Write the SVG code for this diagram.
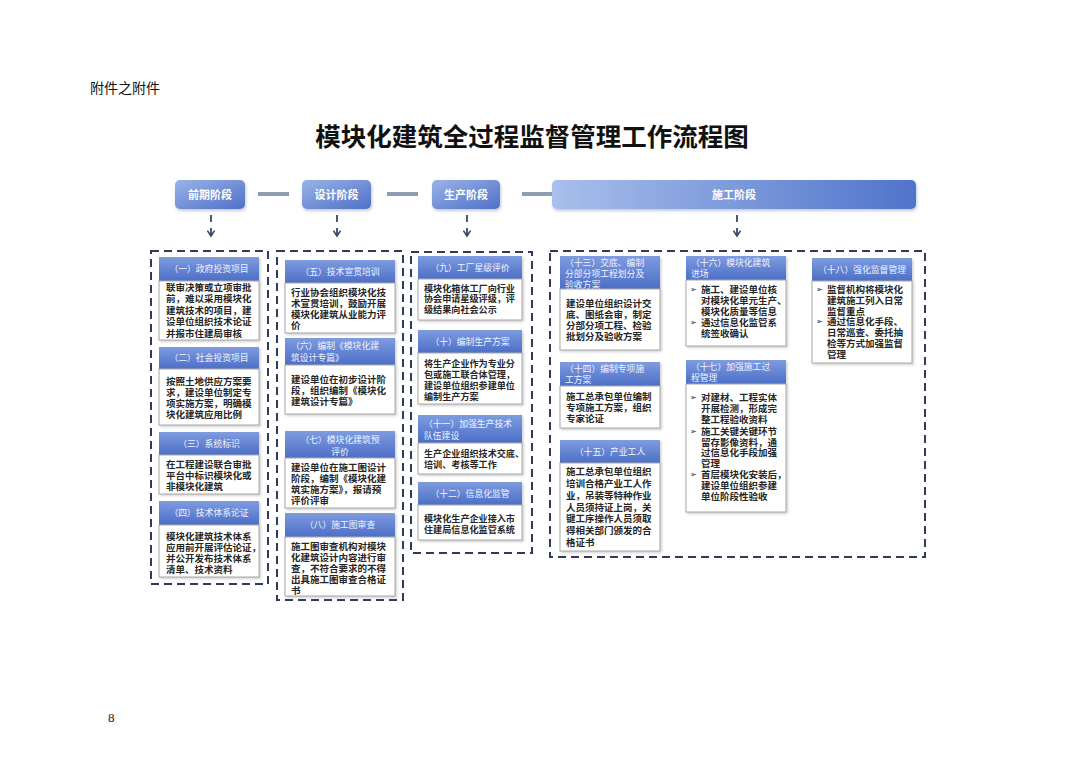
<svg xmlns="http://www.w3.org/2000/svg" width="1080" height="764" viewBox="0 0 1080 764">
<defs>
<linearGradient id="hg" x1="0" y1="0" x2="0" y2="1"><stop offset="0" stop-color="#7f9ce0"/><stop offset="1" stop-color="#4c6ec6"/></linearGradient>
<linearGradient id="sg" x1="0" y1="0" x2="1" y2="1"><stop offset="0" stop-color="#9ab3e8"/><stop offset="1" stop-color="#4e70c8"/></linearGradient>
<linearGradient id="sg4" x1="0" y1="0" x2="1" y2="0"><stop offset="0" stop-color="#a9bfec"/><stop offset="1" stop-color="#5074cb"/></linearGradient>
<filter id="sh" x="-10%" y="-20%" width="130%" height="160%"><feDropShadow dx="1" dy="2" stdDeviation="1.5" flood-color="#8a94a8" flood-opacity="0.5"/></filter>
<filter id="bs" x="-5%" y="-5%" width="115%" height="115%"><feDropShadow dx="1.5" dy="1.5" stdDeviation="0.8" flood-color="#9a9a9a" flood-opacity="0.45"/></filter>
<marker id="ah" viewBox="0 0 10 10" refX="8" refY="5" markerWidth="9" markerHeight="9" orient="auto" markerUnits="userSpaceOnUse"><path d="M2,1 L8,5 L2,9" fill="none" stroke="#3a4766" stroke-width="1.8"/></marker>
</defs>
<style>
text{font-family:"Noto Sans CJK SC","Noto Sans",sans-serif}
.hd{fill:url(#hg);filter:url(#bs)}
.bd{fill:#fff;stroke:#a8a8a8;stroke-width:1;filter:url(#bs)}
.ht{font-size:8.8px;fill:#eef3ff}
.bt{font-size:9.5px;font-weight:bold;fill:#262626}
.b3{font-size:9.1px}
.bu{font-size:8px;fill:#262626}
.ct{fill:none;stroke:#2f3b58;stroke-width:2;stroke-dasharray:8 5}
.st{font-size:11px;fill:#fff;font-weight:bold}
.cn{stroke:#8e9db4;stroke-width:4}
.dn{stroke:#3a4766;stroke-width:1.8;stroke-dasharray:7 6;fill:none}
</style>
<rect width="1080" height="764" fill="#ffffff"/>
<text x="90" y="93" font-size="14" fill="#111">附件之附件</text>
<text x="532" y="146" font-size="25.5" font-weight="bold" text-anchor="middle" fill="#111">模块化建筑全过程监督管理工作流程图</text>
<text x="108" y="722" font-size="13" fill="#222" style="font-family:'Liberation Serif',serif">8</text>

<g id="connectors">
<line class="cn" x1="258" y1="194" x2="289" y2="194"/>
<line class="cn" x1="387" y1="194" x2="418" y2="194"/>
<line class="cn" x1="522" y1="194" x2="553" y2="194"/>
<path class="dn" d="M211,215 V236" marker-end="url(#ah)"/>
<path class="dn" d="M337,215 V236" marker-end="url(#ah)"/>
<path class="dn" d="M467,215 V236" marker-end="url(#ah)"/>
<path class="dn" d="M737,215 V236" marker-end="url(#ah)"/>
</g>

<g id="stages">
<g id="s1"><rect x="175" y="180" width="70" height="29" rx="5" fill="url(#sg)" filter="url(#sh)"/><text class="st" x="210" y="198.5" text-anchor="middle">前期阶段</text></g>
<g id="s2"><rect x="302" y="180" width="69" height="29" rx="5" fill="url(#sg)" filter="url(#sh)"/><text class="st" x="336.5" y="198.5" text-anchor="middle">设计阶段</text></g>
<g id="s3"><rect x="432" y="180" width="68" height="29" rx="5" fill="url(#sg)" filter="url(#sh)"/><text class="st" x="466" y="198.5" text-anchor="middle">生产阶段</text></g>
<g id="s4"><rect x="552" y="180" width="364" height="29" rx="5" fill="url(#sg4)" filter="url(#sh)"/><text class="st" x="734" y="198.5" text-anchor="middle">施工阶段</text></g>
</g>

<g id="containers">
<rect class="ct" x="151" y="251" width="117" height="333"/>
<rect class="ct" x="277" y="251" width="126" height="349"/>
<rect class="ct" x="411" y="252" width="121" height="301"/>
<rect class="ct" x="550" y="251" width="375" height="306"/>
</g>

<g id="n1"><rect class="hd" x="159" y="257" width="100" height="24"/><text class="ht" x="209" y="272" text-anchor="middle">（一）政府投资项目</text>
<rect class="bd" x="159" y="281" width="100" height="59"/>
<text class="bt"><tspan x="166" y="290.5">联审决策或立项审批</tspan><tspan x="166" y="302">前，难以采用模块化</tspan><tspan x="166" y="313.5">建筑技术的项目，建</tspan><tspan x="166" y="325">设单位组织技术论证</tspan><tspan x="166" y="336.5">并报市住建局审核</tspan></text></g>

<g id="n2"><rect class="hd" x="159" y="347" width="100" height="22"/><text class="ht" x="209" y="361" text-anchor="middle">（二）社会投资项目</text>
<rect class="bd" x="159" y="369" width="100" height="56"/>
<text class="bt"><tspan x="166" y="384.5">按照土地供应方案要</tspan><tspan x="166" y="395.5">求，建设单位制定专</tspan><tspan x="166" y="406.5">项实施方案，明确模</tspan><tspan x="166" y="417.5">块化建筑应用比例</tspan></text></g>

<g id="n3"><rect class="hd" x="159" y="432" width="100" height="23"/><text class="ht" x="209" y="446.5" text-anchor="middle">（三）系统标识</text>
<rect class="bd" x="159" y="455" width="100" height="39"/>
<text class="bt"><tspan x="166" y="467.5">在工程建设联合审批</tspan><tspan x="166" y="478.5">平台中标识模块化或</tspan><tspan x="166" y="489.5">非模块化建筑</tspan></text></g>

<g id="n4"><rect class="hd" x="159" y="501" width="100" height="24"/><text class="ht" x="209" y="516" text-anchor="middle">（四）技术体系论证</text>
<rect class="bd" x="159" y="525" width="100" height="52"/>
<text class="bt"><tspan x="166" y="539.5">模块化建筑技术体系</tspan><tspan x="166" y="550.5">应用前开展评估论证，</tspan><tspan x="166" y="561.5">并公开发布技术体系</tspan><tspan x="166" y="572.5">清单、技术资料</tspan></text></g>

<g id="n5"><rect class="hd" x="285" y="260" width="110" height="23"/><text class="ht" x="340" y="274.5" text-anchor="middle">（五）技术宣贯培训</text>
<rect class="bd" x="285" y="283" width="110" height="50"/>
<text class="bt"><tspan x="291" y="295.5">行业协会组织模块化技</tspan><tspan x="291" y="306.5">术宣贯培训，鼓励开展</tspan><tspan x="291" y="317.5">模块化建筑从业能力评</tspan><tspan x="291" y="328.5">价</tspan></text></g>

<g id="n6"><rect class="hd" x="285" y="338" width="110" height="27"/><text class="ht"><tspan x="291" y="349">（六）编制《模块化建</tspan><tspan x="291" y="361">筑设计专篇》</tspan></text>
<rect class="bd" x="285" y="365" width="110" height="49"/>
<text class="bt"><tspan x="291" y="382.5">建设单位在初步设计阶</tspan><tspan x="291" y="393.5">段，组织编制《模块化</tspan><tspan x="291" y="404.5">建筑设计专篇》</tspan></text></g>

<g id="n7"><rect class="hd" x="285" y="431" width="110" height="27"/><text class="ht" text-anchor="middle"><tspan x="340" y="443">（七）模块化建筑预</tspan><tspan x="340" y="455">评价</tspan></text>
<rect class="bd" x="285" y="458" width="110" height="50"/>
<text class="bt"><tspan x="291" y="470.5">建设单位在施工图设计</tspan><tspan x="291" y="481.5">阶段，编制《模块化建</tspan><tspan x="291" y="492.5">筑实施方案》，报请预</tspan><tspan x="291" y="503.5">评价评审</tspan></text></g>

<g id="n8"><rect class="hd" x="285" y="513" width="110" height="24"/><text class="ht" x="340" y="528" text-anchor="middle">（八）施工图审查</text>
<rect class="bd" x="285" y="537" width="110" height="59"/>
<text class="bt"><tspan x="291" y="549.5">施工图审查机构对模块</tspan><tspan x="291" y="560.5">化建筑设计内容进行审</tspan><tspan x="291" y="571.5">查，不符合要求的不得</tspan><tspan x="291" y="582.5">出具施工图审查合格证</tspan><tspan x="291" y="593.5">书</tspan></text></g>

<g id="n9"><rect class="hd" x="418" y="256" width="104" height="23"/><text class="ht" x="470" y="270.5" text-anchor="middle">（九）工厂星级评价</text>
<rect class="bd" x="418" y="279" width="104" height="41"/>
<text class="bt b3"><tspan x="424" y="291.5">模块化箱体工厂向行业</tspan><tspan x="424" y="302">协会申请星级评级，评</tspan><tspan x="424" y="312.5">级结果向社会公示</tspan></text></g>

<g id="n10"><rect class="hd" x="418" y="330" width="104" height="23"/><text class="ht" x="470" y="344.5" text-anchor="middle">（十）编制生产方案</text>
<rect class="bd" x="418" y="353" width="104" height="51"/>
<text class="bt b3"><tspan x="424" y="366.5">将生产企业作为专业分</tspan><tspan x="424" y="377.5">包或施工联合体管理，</tspan><tspan x="424" y="388.5">建设单位组织参建单位</tspan><tspan x="424" y="399.5">编制生产方案</tspan></text></g>

<g id="n11"><rect class="hd" x="418" y="415" width="104" height="28"/><text class="ht"><tspan x="424" y="426.5">（十一）加强生产技术</tspan><tspan x="424" y="438.5">队伍建设</tspan></text>
<rect class="bd" x="418" y="443" width="104" height="31"/>
<text class="bt b3"><tspan x="424" y="456.5">生产企业组织技术交底、</tspan><tspan x="424" y="467.5">培训、考核等工作</tspan></text></g>

<g id="n12"><rect class="hd" x="418" y="482" width="104" height="23"/><text class="ht" x="470" y="496.5" text-anchor="middle">（十二）信息化监管</text>
<rect class="bd" x="418" y="505" width="104" height="35"/>
<text class="bt b3"><tspan x="424" y="521.5">模块化生产企业接入市</tspan><tspan x="424" y="532.5">住建局信息化监管系统</tspan></text></g>

<g id="n13"><rect class="hd" x="560" y="256" width="100" height="33"/><text class="ht"><tspan x="565" y="266">（十三）交底、编制</tspan><tspan x="565" y="277">分部分项工程划分及</tspan><tspan x="565" y="288">验收方案</tspan></text>
<rect class="bd" x="560" y="289" width="100" height="61"/>
<text class="bt"><tspan x="566" y="306.5">建设单位组织设计交</tspan><tspan x="566" y="317.5">底、图纸会审，制定</tspan><tspan x="566" y="328.5">分部分项工程、检验</tspan><tspan x="566" y="340">批划分及验收方案</tspan></text></g>

<g id="n14"><rect class="hd" x="560" y="362" width="100" height="24"/><text class="ht"><tspan x="565" y="372">（十四）编制专项施</tspan><tspan x="565" y="383">工方案</tspan></text>
<rect class="bd" x="560" y="386" width="100" height="42"/>
<text class="bt"><tspan x="566" y="399.5">施工总承包单位编制</tspan><tspan x="566" y="410.5">专项施工方案，组织</tspan><tspan x="566" y="422">专家论证</tspan></text></g>

<g id="n15"><rect class="hd" x="560" y="440" width="100" height="23"/><text class="ht" x="610" y="454.5" text-anchor="middle">（十五）产业工人</text>
<rect class="bd" x="560" y="463" width="100" height="88"/>
<text class="bt"><tspan x="566" y="474.5">施工总承包单位组织</tspan><tspan x="566" y="486.5">培训合格产业工人作</tspan><tspan x="566" y="498.5">业，吊装等特种作业</tspan><tspan x="566" y="510.5">人员须持证上岗，关</tspan><tspan x="566" y="521.5">键工序操作人员须取</tspan><tspan x="566" y="533.5">得相关部门颁发的合</tspan><tspan x="566" y="545.5">格证书</tspan></text></g>

<g id="n16"><rect class="hd" x="686" y="256" width="100" height="24"/><text class="ht"><tspan x="691" y="266">（十六）模块化建筑</tspan><tspan x="691" y="277">进场</tspan></text>
<rect class="bd" x="686" y="280" width="100" height="66"/>
<text class="bu"><tspan x="690" y="292">➢</tspan><tspan x="690" y="325">➢</tspan></text>
<text class="bt"><tspan x="701" y="292.5">施工、建设单位核</tspan><tspan x="701" y="303.5">对模块化单元生产、</tspan><tspan x="701" y="314.5">模块化质量等信息</tspan><tspan x="701" y="325.5">通过信息化监管系</tspan><tspan x="701" y="337">统签收确认</tspan></text></g>

<g id="n17"><rect class="hd" x="686" y="360" width="100" height="24"/><text class="ht"><tspan x="691" y="370">（十七）加强施工过</tspan><tspan x="691" y="381">程管理</tspan></text>
<rect class="bd" x="686" y="384" width="100" height="128"/>
<text class="bu"><tspan x="690" y="400">➢</tspan><tspan x="690" y="434">➢</tspan><tspan x="690" y="477">➢</tspan></text>
<text class="bt"><tspan x="701" y="400.5">对建材、工程实体</tspan><tspan x="701" y="411.5">开展检测，形成完</tspan><tspan x="701" y="422.5">整工程验收资料</tspan><tspan x="701" y="434.5">施工关键关键环节</tspan><tspan x="701" y="445.5">留存影像资料，通</tspan><tspan x="701" y="456">过信息化手段加强</tspan><tspan x="701" y="466.5">管理</tspan><tspan x="701" y="477.5">首层模块化安装后，</tspan><tspan x="701" y="488.5">建设单位组织参建</tspan><tspan x="701" y="499.5">单位阶段性验收</tspan></text></g>

<g id="n18"><rect class="hd" x="812" y="258" width="100" height="23"/><text class="ht" x="862" y="272.5" text-anchor="middle">（十八）强化监督管理</text>
<rect class="bd" x="812" y="281" width="100" height="82"/>
<text class="bu"><tspan x="816" y="292">➢</tspan><tspan x="816" y="324">➢</tspan></text>
<text class="bt"><tspan x="827" y="292.5">监督机构将模块化</tspan><tspan x="827" y="303.5">建筑施工列入日常</tspan><tspan x="827" y="314.5">监督重点</tspan><tspan x="827" y="324.5">通过信息化手段、</tspan><tspan x="827" y="335.5">日常巡查、委托抽</tspan><tspan x="827" y="346.5">检等方式加强监督</tspan><tspan x="827" y="357.5">管理</tspan></text></g>
</svg>
